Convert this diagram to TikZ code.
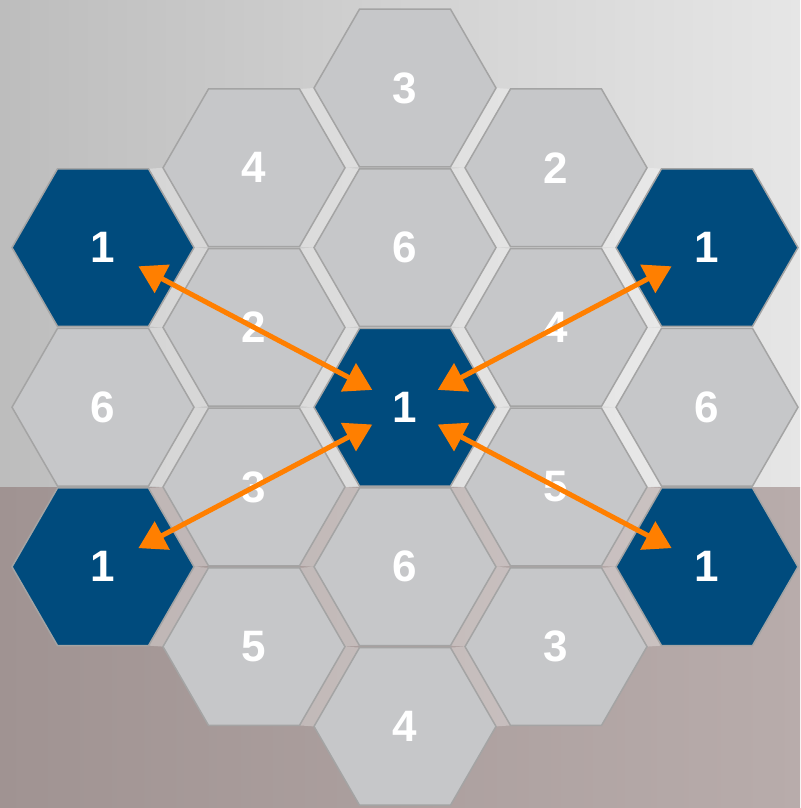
\documentclass[tikz,border=0pt]{standalone}
\usepackage{fontspec}
\setsansfont{Liberation Sans}
\usetikzlibrary{arrows.meta,shapes.geometric,backgrounds}
\definecolor{hexGray}   {HTML}{C6C7C9}
\definecolor{hexBlue}   {HTML}{004B7D}
\definecolor{hexEdge}   {HTML}{A4A4A4}
\definecolor{linkOrange}{HTML}{FF7F00}
\definecolor{wallLeft}  {HTML}{BDBDBD}
\definecolor{wallRight} {HTML}{E6E6E6}
\definecolor{floorLeft} {HTML}{A09392}
\definecolor{floorRight}{HTML}{B8ACAB}
\tikzset{
  font=\sffamily\bfseries\fontsize{44}{44}\selectfont,
  hex/.style={regular polygon,regular polygon sides=6,minimum size=182pt,inner sep=0pt,outer sep=0pt,
    draw=hexEdge,line width=1.5pt,fill=hexGray,text=white},
  hot/.style={hex,fill=hexBlue},
  gap/.style={fill=white,fill opacity=0.3,draw=none},
  link/.style={{Triangle[length=27pt,width=31pt]}-{Triangle[length=27pt,width=31pt]},draw=linkOrange,
    line width=5pt,shorten <=37pt,shorten >=40pt},
}

\begin{document}
\begin{tikzpicture}[x=1pt,y=-1pt]

\useasboundingbox (0,0) rectangle (800,808);

\node[hot] (h1-2) at (103,247.6) {1};
\node[hex] (h1-4) at (103,407.2) {6};
\node[hot] (h1-6) at (103,566.8) {1};

\node[hex] (h2-1) at (254,167.8) {4};
\node[hex] (h2-3) at (254,327.4) {2};
\node[hex] (h2-5) at (254,487.0) {3};
\node[hex] (h2-7) at (254,646.6) {5};

\node[hex] (h3-0) at (405,88.0)  {3};
\node[hex] (h3-2) at (405,247.6) {6};
\node[hot] (h3-4) at (405,407.2) {1};
\node[hex] (h3-6) at (405,566.8) {6};
\node[hex] (h3-8) at (405,726.4) {4};

\node[hex] (h4-1) at (556,167.8) {2};
\node[hex] (h4-3) at (556,327.4) {4};
\node[hex] (h4-5) at (556,487.0) {5};
\node[hex] (h4-7) at (556,646.6) {3};

\node[hot] (h5-2) at (707,247.6) {1};
\node[hex] (h5-4) at (707,407.2) {6};
\node[hot] (h5-6) at (707,566.8) {1};

\draw[link] (h3-4.center) -- (h1-2.center);
\draw[link] (h3-4.center) -- (h5-2.center);
\draw[link] (h3-4.center) -- (h1-6.center);
\draw[link] (h3-4.center) -- (h5-6.center);

\begin{pgfonlayer}{background}
\shade[left color=wallLeft,right color=wallRight] (0,0) rectangle (800,487);
\shade[left color=floorLeft,right color=floorRight] (0,487) rectangle (800,808);
\foreach \a/\b [evaluate=\a as \na using int(\a+1),evaluate=\b as \nb using int(\b+1)] in
  {1/2,1/4,1/6,2/1,2/3,2/5,2/7,3/0,3/2,3/4,3/6,4/1,4/3,4/5}
  \fill[gap] ([shift={(91,0)}]h\a-\b.center) -- ([shift={(45.5,78.8)}]h\a-\b.center)
    -- ([shift={(-91,0)}]h\na-\nb.center) -- ([shift={(-45.5,-78.8)}]h\na-\nb.center) -- cycle;
\foreach \a/\b [evaluate=\a as \na using int(\a+1),evaluate=\b as \nb using int(\b-1)] in
  {1/2,1/4,1/6,2/1,2/3,2/5,2/7,3/2,3/4,3/6,3/8,4/3,4/5,4/7}
  \fill[gap] ([shift={(91,0)}]h\a-\b.center) -- ([shift={(45.5,-78.8)}]h\a-\b.center)
    -- ([shift={(-91,0)}]h\na-\nb.center) -- ([shift={(-45.5,78.8)}]h\na-\nb.center) -- cycle;
\end{pgfonlayer}

\end{tikzpicture}
\end{document}
